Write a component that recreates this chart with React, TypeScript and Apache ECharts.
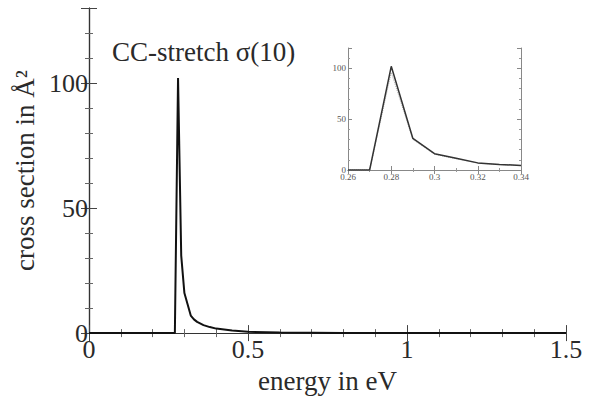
import React, { useEffect, useRef } from "react";
import * as echarts from "echarts";

const mainX = [0, 0.27, 0.27, 0.28, 0.29, 0.3, 0.31, 0.32, 0.33, 0.34, 0.36, 0.38, 0.4, 0.45, 0.5, 0.6, 0.7, 0.8, 1.0, 1.2, 1.5];
const mainY = [0, 0, 0, 102, 31, 16, 11.5, 7, 5.5, 4.5, 3.2, 2.4, 1.8, 1.0, 0.5, 0.2, 0.1, 0, 0, 0, 0];
const insetX = [0.26, 0.27, 0.28, 0.29, 0.3, 0.31, 0.32, 0.33, 0.34];
const insetY = [0, 0, 102, 31, 16, 11.5, 7, 5.5, 4.5];
const insetY2 = [0, 0, 96, 30, 15.5, 11, 6.8, 5.3, 4.3];
const mainXTicks = ["0", "0.5", "1", "1.5"];
const title = "CC-stretch σ(10)";
const xName = "energy in eV";
const yName = "cross section in Å²";

const FONT = "'Liberation Serif', 'Times New Roman', serif";
const TXT = "#2a2a2a";

function pairs(xs: number[], ys: number[]) {
  return xs.map((x, i) => [x, ys[i]]);
}

export default function App() {
  const ref = useRef<HTMLDivElement>(null);
  useEffect(() => {
    document.body.style.margin = "0";
    const chart = echarts.init(ref.current!, undefined, { renderer: "svg" });
    const frame = { show: true, lineStyle: { color: "#333", width: 1.2 } };
    const insetFrame = { show: true, lineStyle: { color: "#888", width: 1 } };
    const mainTick = { show: true, inside: true, length: 8, lineStyle: { color: "#444" } };
    const mainTickOut = { show: true, inside: false, length: 6, lineStyle: { color: "#444" } };
    const mainMinor = { show: true, splitNumber: 5, length: 4, lineStyle: { color: "#666" } };
    const insTick = { show: true, inside: true, length: 4, lineStyle: { color: "#888" } };
    const insMinor = { show: true, splitNumber: 2, length: 2, lineStyle: { color: "#999" } };
    const insMinorY = { show: true, splitNumber: 5, length: 2, lineStyle: { color: "#999" } };
    const noSplit = { show: false };
    chart.setOption({
      animation: false,
      backgroundColor: "#fff",
      grid: [
        { left: 89, top: 8, right: 29, bottom: 57 },
        { left: 348, top: 48, width: 173, height: 122 },
      ],
      xAxis: [
        {
          type: "value", gridIndex: 0, min: 0, max: 1.5, interval: 0.5, position: "bottom",
          axisLine: frame, axisTick: mainTick, minorTick: mainMinor, splitLine: noSplit,
          axisLabel: {
            fontFamily: FONT, fontSize: 26, color: TXT, margin: 3,
            formatter: (v: number) => mainXTicks[Math.round(v / 0.5)] ?? String(v),
          },
          name: xName, nameLocation: "middle", nameGap: 25,
          nameTextStyle: { fontFamily: FONT, fontSize: 27, color: TXT },
        },
        {
          type: "value", gridIndex: 0, min: 0, max: 1.5, interval: 0.5, position: "top",
          axisLine: frame, axisTick: mainTick, minorTick: mainMinor, splitLine: noSplit,
          axisLabel: { show: false },
        },
        {
          type: "value", gridIndex: 1, min: 0.26, max: 0.34, interval: 0.02, position: "bottom",
          axisLine: insetFrame, axisTick: insTick, minorTick: insMinor, splitLine: noSplit,
          axisLabel: {
            fontFamily: FONT, fontSize: 9, color: "#555", margin: 2,
            formatter: (v: number) => String(parseFloat(v.toFixed(2))),
          },
        },
        {
          type: "value", gridIndex: 1, min: 0.26, max: 0.34, interval: 0.02, position: "top",
          axisLine: insetFrame, axisTick: insTick, minorTick: insMinor, splitLine: noSplit,
          axisLabel: { show: false },
        },
      ],
      yAxis: [
        {
          type: "value", gridIndex: 0, min: 0, max: 130, interval: 50, position: "left",
          axisLine: frame, axisTick: mainTickOut, minorTick: { show: false }, splitLine: noSplit,
          axisLabel: { fontFamily: FONT, fontSize: 26, color: TXT, margin: 1, showMaxLabel: false },
          name: yName, nameLocation: "middle", nameGap: 44,
          nameTextStyle: { fontFamily: FONT, fontSize: 27, color: TXT },
        },
        {
          type: "value", gridIndex: 0, min: 0, max: 130, interval: 50, position: "right",
          axisLine: frame, axisTick: mainTick, minorTick: mainMinor, splitLine: noSplit,
          axisLabel: { show: false },
        },
        {
          type: "value", gridIndex: 1, min: 0, max: 120, interval: 50, position: "left",
          axisLine: insetFrame, axisTick: insTick, minorTick: insMinorY, splitLine: noSplit,
          axisLabel: { fontFamily: FONT, fontSize: 9, color: "#555", margin: 2, showMaxLabel: false },
        },
        {
          type: "value", gridIndex: 1, min: 0, max: 120, interval: 50, position: "right",
          axisLine: insetFrame, axisTick: insTick, minorTick: insMinorY, splitLine: noSplit,
          axisLabel: { show: false },
        },
        {
          type: "value", gridIndex: 0, min: 0, max: 130, interval: 50, position: "left",
          axisLine: { show: false }, axisTick: mainTick, minorTick: mainMinor, splitLine: noSplit,
          axisLabel: { show: false },
        },
      ],
      graphic: [
        {
          type: "text", left: 112, top: 38,
          style: { text: title, font: `27px ${FONT}`, fill: TXT },
        },
      ],
      series: [
        {
          type: "line", xAxisIndex: 0, yAxisIndex: 0, data: pairs(mainX, mainY),
          showSymbol: false, lineStyle: { color: "#111", width: 2 }, z: 5,
        },
        {
          type: "line", xAxisIndex: 2, yAxisIndex: 2, data: pairs(insetX, insetY2),
          showSymbol: false, lineStyle: { color: "#aaa", width: 1, type: "dotted" }, z: 4,
        },
        {
          type: "line", xAxisIndex: 2, yAxisIndex: 2, data: pairs(insetX, insetY),
          showSymbol: false, lineStyle: { color: "#333", width: 1.5 }, z: 5,
        },
      ],
    });
    return () => chart.dispose();
  }, []);
  return <div ref={ref} style={{ width: 595, height: 399 }} />;
}
